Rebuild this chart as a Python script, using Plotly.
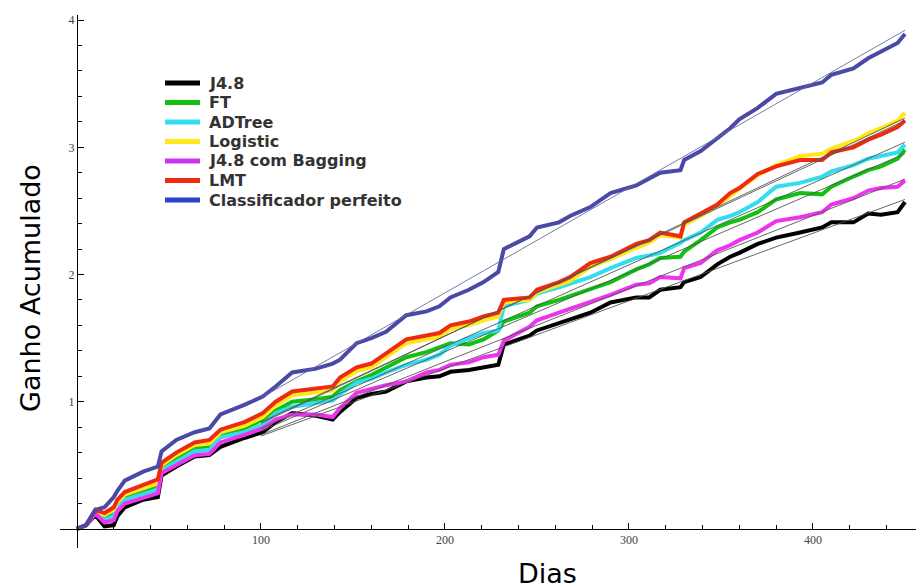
import plotly.graph_objects as go

days = [0, 5, 10, 15, 20, 22, 26, 36, 44, 46, 54, 64, 72, 78, 91, 101, 108, 117, 130, 139,
        143, 152, 160, 168, 179, 190, 197, 203, 213, 221, 229, 232, 246, 250, 262, 268, 279,
        290, 304, 311, 317, 328, 330, 339, 348, 355, 360, 370, 380, 393, 405, 410, 422, 430,
        437, 446, 450]

j48 = [0, 0.03, 0.11, 0.02, 0.03, 0.10, 0.17, 0.23, 0.25, 0.42, 0.49, 0.57, 0.58, 0.645, 0.715,
       0.76, 0.84, 0.91, 0.89, 0.86, 0.92, 1.03, 1.06, 1.08, 1.16, 1.19, 1.20, 1.235, 1.25, 1.27,
       1.29, 1.45, 1.52, 1.56, 1.62, 1.65, 1.70, 1.78, 1.82, 1.82, 1.88, 1.90, 1.94, 1.98, 2.08,
       2.14, 2.17, 2.24, 2.29, 2.33, 2.37, 2.41, 2.41, 2.48, 2.47, 2.49, 2.57]

ft = [0, 0.03, 0.13, 0.10, 0.11, 0.19, 0.26, 0.29, 0.33, 0.49, 0.56, 0.64, 0.65, 0.74, 0.79,
      0.86, 0.93, 1.00, 1.02, 1.04, 1.09, 1.16, 1.21, 1.27, 1.35, 1.39, 1.43, 1.46, 1.45, 1.49,
      1.56, 1.63, 1.70, 1.75, 1.80, 1.83, 1.88, 1.94, 2.04, 2.08, 2.13, 2.14, 2.18, 2.27, 2.37,
      2.41, 2.43, 2.49, 2.59, 2.64, 2.63, 2.69, 2.77, 2.82, 2.85, 2.91, 2.98]

adtree = [0, 0.03, 0.15, 0.07, 0.10, 0.17, 0.23, 0.27, 0.31, 0.46, 0.53, 0.61, 0.62, 0.72, 0.76,
          0.82, 0.91, 0.96, 0.99, 1.01, 1.06, 1.15, 1.18, 1.23, 1.29, 1.33, 1.37, 1.44, 1.50, 1.54,
          1.56, 1.75, 1.80, 1.85, 1.90, 1.93, 1.98, 2.05, 2.13, 2.15, 2.17, 2.25, 2.27, 2.33, 2.43,
          2.46, 2.49, 2.57, 2.69, 2.72, 2.77, 2.81, 2.86, 2.91, 2.93, 2.96, 3.02]

logistic = [0, 0.03, 0.14, 0.11, 0.15, 0.21, 0.27, 0.32, 0.36, 0.50, 0.58, 0.66, 0.67, 0.76, 0.81,
            0.88, 0.97, 1.05, 1.07, 1.09, 1.16, 1.24, 1.27, 1.35, 1.46, 1.49, 1.51, 1.57, 1.60, 1.64,
            1.67, 1.78, 1.80, 1.86, 1.92, 1.95, 2.06, 2.12, 2.21, 2.25, 2.31, 2.29, 2.39, 2.46, 2.54,
            2.62, 2.67, 2.78, 2.86, 2.93, 2.95, 2.99, 3.05, 3.11, 3.15, 3.21, 3.27]

bagging = [0, 0.03, 0.12, 0.05, 0.07, 0.14, 0.20, 0.24, 0.28, 0.44, 0.50, 0.58, 0.59, 0.68, 0.74,
           0.79, 0.86, 0.90, 0.90, 0.88, 0.95, 1.07, 1.10, 1.13, 1.16, 1.23, 1.25, 1.29, 1.31, 1.35,
           1.37, 1.48, 1.59, 1.64, 1.70, 1.73, 1.79, 1.84, 1.92, 1.93, 1.98, 1.97, 2.05, 2.09, 2.19,
           2.23, 2.27, 2.33, 2.42, 2.45, 2.49, 2.55, 2.60, 2.66, 2.68, 2.69, 2.74]

lmt = [0, 0.03, 0.15, 0.125, 0.17, 0.23, 0.29, 0.35, 0.39, 0.52, 0.60, 0.68, 0.70, 0.78, 0.84,
       0.91, 1.00, 1.08, 1.10, 1.12, 1.19, 1.27, 1.30, 1.38, 1.49, 1.52, 1.54, 1.60, 1.63, 1.67,
       1.70, 1.80, 1.82, 1.88, 1.94, 1.98, 2.09, 2.14, 2.24, 2.27, 2.33, 2.30, 2.41, 2.48, 2.55,
       2.64, 2.68, 2.79, 2.85, 2.90, 2.90, 2.96, 3.00, 3.06, 3.10, 3.16, 3.21]

perfeito = [0, 0.03, 0.15, 0.17, 0.25, 0.30, 0.38, 0.45, 0.49, 0.61, 0.70, 0.76, 0.79, 0.90, 0.975,
            1.04, 1.12, 1.23, 1.26, 1.30, 1.33, 1.46, 1.50, 1.55, 1.68, 1.71, 1.75, 1.82, 1.88, 1.94,
            2.02, 2.20, 2.30, 2.37, 2.41, 2.46, 2.53, 2.64, 2.70, 2.75, 2.80, 2.82, 2.90, 2.97, 3.07,
            3.15, 3.22, 3.31, 3.42, 3.47, 3.51, 3.57, 3.62, 3.70, 3.75, 3.82, 3.89]

names = ["J4.8", "FT", "ADTree", "Logistic", "J4.8 com Bagging", "LMT", "Classificador perfeito"]
series = [j48, ft, adtree, logistic, bagging, lmt, perfeito]
colors = ["#000000", "#11c011", "#33ddee", "#ffe81a", "#ee33ee", "#ee2a10", "#4a4aa6"]
legend_colors = ["#000000", "#11c011", "#33ddee", "#ffe81a", "#cc33ee", "#ee2a10", "#2a44cc"]

# fitted trend lines (from day 100 to day 450)
trend_x = [100, 450]
trend_start = [0.73, 0.77, 0.79, 0.83, 0.74, 0.84, 1.03]
trend_end = [2.59, 2.95, 3.04, 3.23, 2.75, 3.21, 3.92]
trend_colors = ["#555555"] * 6 + ["#6a6aa8"]

x_major = [100, 200, 300, 400]
x_minor = [20, 40, 60, 80, 120, 140, 160, 180, 220, 240, 260, 280, 320, 340, 360, 380, 420, 440]
y_major = [1, 2, 3, 4]
y_minor = [0.2, 0.4, 0.6, 0.8, 1.2, 1.4, 1.6, 1.8, 2.2, 2.4, 2.6, 2.8, 3.2, 3.4, 3.6, 3.8]

x_range = [-9.2, 456]
y_range = [-0.15, 4.04]

W, H = 916, 588
ML, MR, MT, MB = 60, 0, 15, 40
PW, PH = W - ML - MR, H - MT - MB


def px_to_paper_x(px):
    return (px - ML) / PW


def px_to_paper_y(py):
    return (H - MB - py) / PH


fig = go.Figure()
for name, ys, c in zip(names, series, colors):
    fig.add_trace(go.Scatter(x=days, y=ys, mode="lines", name=name, showlegend=False,
                             line=dict(color=c, width=4)))
for s, e, c in zip(trend_start, trend_end, trend_colors):
    fig.add_trace(go.Scatter(x=trend_x, y=[s, e], mode="lines", showlegend=False,
                             line=dict(color=c, width=0.9), hoverinfo="skip"))

# legend (drawn as line swatches + text, placed like the original)
shapes = []
annotations = []
leg_x0, leg_x1, leg_tx, leg_y0, leg_dy = 165, 200, 208, 83, 19.5
for i, (name, c) in enumerate(zip(names, legend_colors)):
    yy = px_to_paper_y(leg_y0 + i * leg_dy)
    shapes.append(dict(type="line", xref="paper", yref="paper",
                       x0=px_to_paper_x(leg_x0), x1=px_to_paper_x(leg_x1), y0=yy, y1=yy,
                       line=dict(color=c, width=5)))
    annotations.append(dict(text=name, xref="paper", yref="paper", x=px_to_paper_x(leg_tx), y=yy,
                            xanchor="left", yanchor="middle", showarrow=False, borderpad=0,
                            font=dict(family="DejaVu Sans", size=16, color="#333333", weight="bold")))

annotations += [
    dict(text="Ganho Acumulado", xref="paper", yref="paper", x=px_to_paper_x(30), y=px_to_paper_y(288),
         textangle=-90, showarrow=False, font=dict(family="DejaVu Sans", size=27, color="black"),
         xanchor="center", yanchor="middle"),
    dict(text="Dias", xref="paper", yref="paper", x=px_to_paper_x(547), y=px_to_paper_y(573),
         showarrow=False, font=dict(family="DejaVu Sans", size=27, color="black"),
         xanchor="center", yanchor="middle"),
]

tickfont = dict(family="Liberation Serif", size=12, color="#444444")
fig.update_layout(
    width=W, height=H,
    margin=dict(l=ML, r=MR, t=MT, b=MB),
    plot_bgcolor="white", paper_bgcolor="white",
    showlegend=False,
    xaxis=dict(range=x_range, anchor="free",
               position=(0 - y_range[0]) / (y_range[1] - y_range[0]),
               showgrid=False, zeroline=False, showline=True, linecolor="black", linewidth=1,
               tickmode="array", tickvals=x_major, ticktext=[str(v) for v in x_major],
               ticks="inside", ticklen=6, tickcolor="black", tickfont=tickfont,
               minor=dict(tickmode="array", tickvals=x_minor, ticks="inside", ticklen=4,
                          tickcolor="black", showgrid=False)),
    yaxis=dict(range=y_range, anchor="free",
               position=(0 - x_range[0]) / (x_range[1] - x_range[0]),
               showgrid=False, zeroline=False, showline=True, linecolor="black", linewidth=1,
               tickmode="array", tickvals=y_major, ticktext=[str(v) for v in y_major],
               ticks="inside", ticklen=6, tickcolor="black", tickfont=tickfont,
               minor=dict(tickmode="array", tickvals=y_minor, ticks="inside", ticklen=4,
                          tickcolor="black", showgrid=False)),
    shapes=shapes,
    annotations=annotations,
)

fig.write_html("out.html", config={"displayModeBar": False},
               post_script="document.body.style.margin='0';")
